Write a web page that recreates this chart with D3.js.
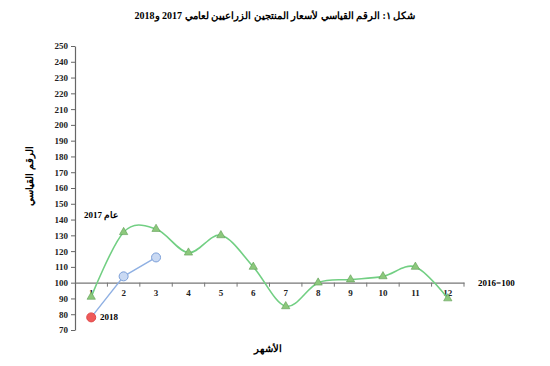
<!DOCTYPE html>
<html>
<head>
<meta charset="utf-8">
<script src="https://cdn.jsdelivr.net/npm/d3@7"></script>
<style>
  body { margin: 0; background: #fff; }
  svg text { font-family: "Liberation Serif", "DejaVu Serif", serif; font-weight: bold; }
</style>
</head>
<body>
<div id="chart"></div>
<script>
const width = 550
const height = 366

const months = ["1", "2", "3", "4", "5", "6", "7", "8", "9", "10", "11", "12"]
const values2017 = [91, 132, 134, 119, 130, 110, 85, 100, 102, 104, 110, 90]
const values2018 = [78, 104, 116]
const yTicks = [70, 80, 90, 100, 110, 120, 130, 140, 150, 160, 170, 180, 190, 200, 210, 220, 230, 240, 250]

const margins = { left: 75, right: 86, top: 46, bottom: 36 }

const svg = d3
  .select("#chart")
  .append("svg")
  .attr("width", width)
  .attr("height", height)

const xScale = d3
  .scaleBand()
  .domain(months)
  .range([margins.left, width - margins.right])

const yScale = d3
  .scaleLinear()
  .domain([70, 250])
  .range([height - margins.bottom, margins.top])

const xCenter = (i) => xScale(months[i]) + xScale.bandwidth() / 2

// TITLE
svg.append("text")
  .attr("x", 275)
  .attr("y", 19)
  .attr("text-anchor", "middle")
  .attr("direction", "rtl")
  .style("font-size", "10px")
  .text("شكل ١: الرقم القياسي لأسعار المنتجين الزراعيين لعامي 2017 و2018")

// Y AXIS
const yAxis = svg.append("g")
  .attr("transform", `translate(${margins.left},0)`)
  .call(d3.axisLeft(yScale).tickValues(yTicks).tickSizeInner(4).tickSizeOuter(0).tickPadding(3))
yAxis.select(".domain").attr("stroke", "#666").attr("stroke-width", 1.2)
yAxis.selectAll(".tick line").attr("stroke", "#666")
yAxis.selectAll("text").style("font-size", "9px").attr("fill", "#222")

// X AXIS at 100
const xAxis = svg.append("g")
  .attr("transform", `translate(0,${yScale(100)})`)
  .call(d3.axisBottom(xScale).tickSize(0).tickPadding(7))
xAxis.select(".domain").attr("stroke", "#777").attr("stroke-width", 1.2)
xAxis.selectAll("text").style("font-size", "9px").attr("fill", "#222")

// ticks at category boundaries
svg.append("g")
  .selectAll("line")
  .data(months.slice(1).concat(["end"]))
  .join("line")
  .attr("x1", (d, i) => xScale(months[0]) + xScale.step() * (i + 1))
  .attr("x2", (d, i) => xScale(months[0]) + xScale.step() * (i + 1))
  .attr("y1", yScale(100))
  .attr("y2", yScale(100) + 4)
  .attr("stroke", "#777")

// 2017 LINE
const line2017 = d3.line()
  .curve(d3.curveCardinal.tension(0))
  .x((d, i) => xCenter(i))
  .y((d) => yScale(d))

svg.append("path")
  .datum(values2017)
  .attr("d", line2017)
  .attr("fill", "none")
  .attr("stroke", "#72cf83")
  .attr("stroke-width", 1.6)

svg.append("g")
  .selectAll("path")
  .data(values2017)
  .join("path")
  .attr("d", d3.symbol(d3.symbolTriangle, 30))
  .attr("transform", (d, i) => `translate(${xCenter(i)},${yScale(d)})`)
  .attr("fill", "#8cc87c")
  .attr("stroke", "#5f9e55")
  .attr("stroke-width", 0.6)

// 2018 LINE
const line2018 = d3.line()
  .x((d, i) => xCenter(i))
  .y((d) => yScale(d))

svg.append("path")
  .datum(values2018)
  .attr("d", line2018)
  .attr("fill", "none")
  .attr("stroke", "#8fb0e3")
  .attr("stroke-width", 1.4)

svg.append("g")
  .selectAll("circle")
  .data(values2018)
  .join("circle")
  .attr("cx", (d, i) => xCenter(i))
  .attr("cy", (d) => yScale(d))
  .attr("r", 4.5)
  .attr("fill", (d, i) => (i === 0 ? "#ee5a5a" : "#c9d9f3"))
  .attr("stroke", (d, i) => (i === 0 ? "#e04848" : "#7c9fd8"))
  .attr("stroke-width", 1)

// LABELS
svg.append("text")
  .attr("x", 84)
  .attr("y", yScale(141))
  .attr("direction", "rtl")
  .attr("text-anchor", "end")
  .style("font-size", "9px")
  .text("عام 2017")

svg.append("text")
  .attr("x", 100)
  .attr("y", yScale(78) + 3)
  .style("font-size", "9px")
  .text("2018")

svg.append("text")
  .attr("x", 478)
  .attr("y", yScale(100) + 3)
  .style("font-size", "9px")
  .text("2016=100")

svg.append("text")
  .attr("x", 268)
  .attr("y", 352)
  .attr("text-anchor", "middle")
  .style("font-size", "10px")
  .text("الأشهر")

svg.append("text")
  .attr("transform", `translate(33,176) rotate(-90)`)
  .attr("text-anchor", "middle")
  .style("font-size", "10px")
  .text("الرقم القياسي")
</script>
</body>
</html>
